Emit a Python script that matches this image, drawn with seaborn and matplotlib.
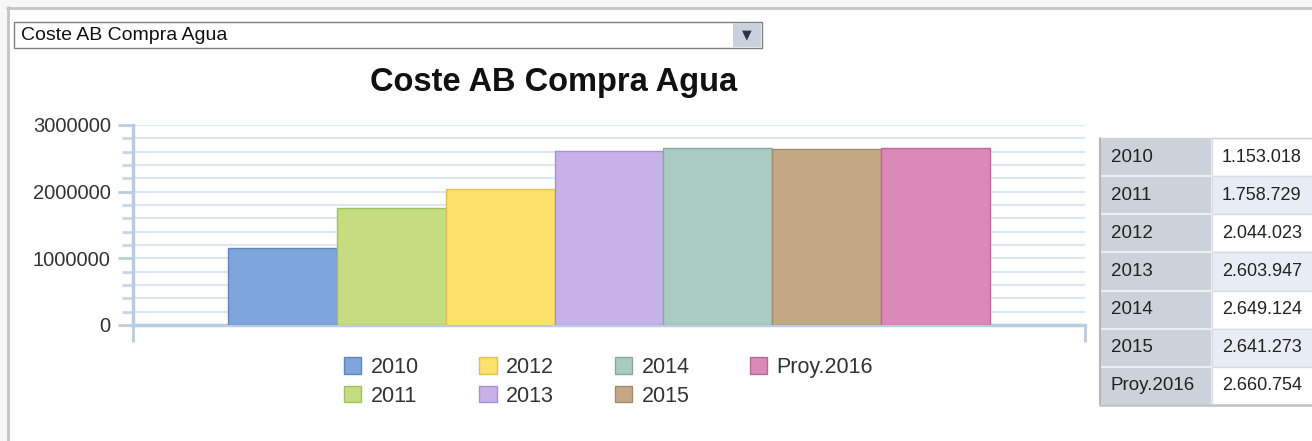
import matplotlib
matplotlib.use("Agg")
import matplotlib.pyplot as plt
from matplotlib.patches import Rectangle, Patch
from matplotlib.lines import Line2D
from matplotlib.ticker import MultipleLocator, FuncFormatter
import seaborn as sns
import pandas as pd

# ---- data ----
years = ["2010", "2011", "2012", "2013", "2014", "2015", "Proy.2016"]
values = [1153018, 1758729, 2044023, 2603947, 2649124, 2641273, 2660754]
table_values = ["1.153.018", "1.758.729", "2.044.023", "2.603.947",
                "2.649.124", "2.641.273", "2.660.754"]
title = "Coste AB Compra Agua"
yticks = [0, 1000000, 2000000, 3000000]

colors = ["#7ea6dc", "#c5dd80", "#fee06c", "#c7b1eb", "#a9cbc1", "#c4a886", "#db89b8"]
edges = ["#5f86bf", "#a5bf5f", "#e0c050", "#a890cc", "#88aaa0", "#a58a68", "#bb6898"]

W, H = 1312, 441
sns.set_style("white")
plt.rcParams["font.family"] = ["Liberation Sans", "DejaVu Sans"]

fig = plt.figure(figsize=(W / 100, H / 100), dpi=100)
fig.patch.set_facecolor("white")


def fx(x):
    return x / W


def fy(y):
    return 1 - y / H


# ---- frame ----
fig.add_artist(Rectangle((0, fy(7)), 1, 1 - fy(7), transform=fig.transFigure,
                         facecolor="#f7f7f7", edgecolor="none", zorder=0))
fig.add_artist(Rectangle((0, 0), fx(7), 1, transform=fig.transFigure,
                         facecolor="#f7f7f7", edgecolor="none", zorder=0))
fig.add_artist(Line2D([fx(7), 1], [fy(7.5), fy(7.5)], transform=fig.transFigure,
                      color="#c4c4c4", lw=2))
fig.add_artist(Line2D([fx(7.5), fx(7.5)], [fy(7), 0], transform=fig.transFigure,
                      color="#c4c4c4", lw=2))

# ---- dropdown ----
fig.add_artist(Rectangle((fx(14), fy(48)), fx(762) - fx(14), fy(22) - fy(48),
                         transform=fig.transFigure, facecolor="white",
                         edgecolor="#7f7f7f", lw=1))
fig.add_artist(Rectangle((fx(733), fy(47)), fx(761) - fx(733), fy(23) - fy(47),
                         transform=fig.transFigure, facecolor="#c9d1dc",
                         edgecolor="none"))
fig.text(fx(747), fy(35), "▼", family="DejaVu Sans", fontsize=9, color="#2a3340",
         ha="center", va="center")
fig.text(fx(21), fy(35.5), title, fontsize=14, color="#111111", ha="left", va="center")

# ---- title ----
fig.text(fx(554), fy(82), title, fontsize=23.5, fontweight="bold", color="#111111",
         ha="center", va="center")

# ---- bar chart ----
ax = fig.add_axes([fx(133), fy(325), fx(1085) - fx(133), fy(125) - fy(325)])
df = pd.DataFrame({"grp": [""] * len(years), "year": years, "value": values})
sns.barplot(data=df, x="grp", y="value", hue="year", hue_order=years,
            palette=colors, width=0.8, saturation=1, legend=False, ax=ax,
            zorder=3)
for p, ec in zip(ax.patches, edges):
    p.set_edgecolor(ec)
    p.set_linewidth(1)

ax.set_xlim(-0.5, 0.5)
ax.set_ylim(0, 3000000)
ax.set_xlabel("")
ax.set_ylabel("")
ax.set_xticks([-0.5, 0.5])
ax.set_xticklabels(["", ""])
ax.tick_params(axis="x", bottom=True, length=12, width=2, color="#b9cce0",
               direction="out")
ax.set_yticks(yticks)
ax.yaxis.set_minor_locator(MultipleLocator(200000))
ax.yaxis.set_major_formatter(FuncFormatter(lambda v, p: f"{int(v)}"))
ax.tick_params(axis="y", which="major", left=True, length=11, width=2,
               color="#b9cce0", labelsize=14.5, labelcolor="#333333", pad=5)
ax.tick_params(axis="y", which="minor", left=True, length=8, width=2,
               color="#c7d6e6")
ax.grid(True, axis="y", which="both", color="#dde7f2", lw=1.5, zorder=0)
ax.set_axisbelow(True)
for s in ["top", "right"]:
    ax.spines[s].set_visible(False)
for s in ["left", "bottom"]:
    ax.spines[s].set_color("#b9cce0")
    ax.spines[s].set_linewidth(2.5)

# ---- legend ----
handles = [Patch(facecolor=c, edgecolor=e, lw=1) for c, e in zip(colors, edges)]
leg = fig.legend(handles, years, loc="upper left",
                 bbox_to_anchor=(fx(344), fy(357)), ncol=4, frameon=False,
                 fontsize=15.5, handlelength=0.8, handleheight=0.8,
                 handletextpad=0.45, columnspacing=2.8, labelspacing=0.35,
                 borderpad=0, borderaxespad=0)
for t in leg.get_texts():
    t.set_color("#333333")

# ---- table ----
tax = fig.add_axes([fx(1100), fy(405), 1 - fx(1100), fy(138) - fy(405)])
tax.set_xlim(0, 212)
tax.set_ylim(7, 0)
tax.axis("off")
for i, (lab, val) in enumerate(zip(years, table_values)):
    tax.add_patch(Rectangle((0, i), 112, 1, facecolor="#ccd2d9",
                            edgecolor="#eceff2", lw=1.5))
    tax.add_patch(Rectangle((112, i), 120, 1,
                            facecolor="white" if i % 2 == 0 else "#e8edf5",
                            edgecolor="#d8dde4", lw=1, clip_on=True))
    tax.text(11, i + 0.5, lab, fontsize=13.5, color="#222222", va="center", ha="left")
    tax.text(122, i + 0.5, val, fontsize=13, color="#222222", va="center", ha="left")
tax.plot([0, 0], [0, 7], color="#b5b5b5", lw=1.5, clip_on=False)
tax.plot([0, 212], [7, 7], color="#c5c5c5", lw=2, clip_on=False)
tax.plot([0, 212], [0, 0], color="#d0d0d0", lw=1, clip_on=False)

fig.savefig("out.png", dpi=100)
